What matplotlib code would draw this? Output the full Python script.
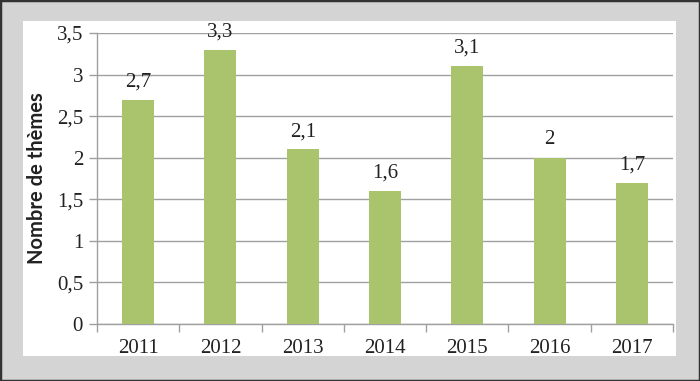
import matplotlib
matplotlib.use("Agg")
import matplotlib.pyplot as plt
from matplotlib.patches import Rectangle

years = ["2011", "2012", "2013", "2014", "2015", "2016", "2017"]
values = [2.7, 3.3, 2.1, 1.6, 3.1, 2.0, 1.7]
labels = ["2,7", "3,3", "2,1", "1,6", "3,1", "2", "1,7"]
yticks = [0, 0.5, 1, 1.5, 2, 2.5, 3, 3.5]
yticklabels = ["0", "0,5", "1", "1,5", "2", "2,5", "3", "3,5"]

fig = plt.figure(figsize=(7.0, 3.81), dpi=100, facecolor="#d4d4d4")
fig.patches.append(Rectangle((0, 0), 1, 1, transform=fig.transFigure, fill=False,
                             edgecolor="#333333", linewidth=2.5, zorder=-2))
fig.patches.append(Rectangle((23/700, 1-356/381), (676-23)/700, (356-21)/381,
                             transform=fig.transFigure, facecolor="white",
                             edgecolor="none", zorder=-1))

ax = fig.add_axes([97/700, 1-324/381, (673-97)/700, (324-33)/381])
ax.set_zorder(1)
ax.set_facecolor("white")
x = list(range(len(years)))
ax.bar(x, values, width=0.39, color="#a9c46c", zorder=3)
ax.set_xlim(-0.5, len(years)-0.5)
ax.set_ylim(0, 3.5)
ax.set_yticks(yticks)
ax.set_yticklabels(yticklabels)
ax.set_xticks(x)
ax.set_xticklabels(years)
ax.set_xticks([i + 0.5 for i in range(-1, len(years))], minor=True)
ax.tick_params(axis="x", which="major", length=0, pad=11)
ax.tick_params(axis="x", which="minor", length=6, color="#a0a0a0", width=1)
ax.tick_params(axis="y", length=6, color="#a0a0a0", width=1, pad=4)
ax.grid(axis="y", color="#a0a0a0", linewidth=1, zorder=0)
for s in ["top", "right"]:
    ax.spines[s].set_visible(False)
for s in ["left", "bottom"]:
    ax.spines[s].set_color("#a0a0a0")
    ax.spines[s].set_linewidth(1)
for lab in ax.get_xticklabels() + ax.get_yticklabels():
    lab.set_fontfamily("Liberation Serif")
    lab.set_fontsize(15)
    lab.set_color("#222222")
for xi, v, t in zip(x, values, labels):
    ax.annotate(t, (xi, v), xytext=(0, 6), textcoords="offset points",
                ha="center", va="bottom", fontsize=15, family="Liberation Serif",
                color="#222222")
ax.set_ylabel("Nombre de thèmes", fontsize=14.5, fontweight="bold",
              family="Lato", color="#222222", labelpad=7)
fig.savefig("out.png", dpi=100, facecolor=fig.get_facecolor())
